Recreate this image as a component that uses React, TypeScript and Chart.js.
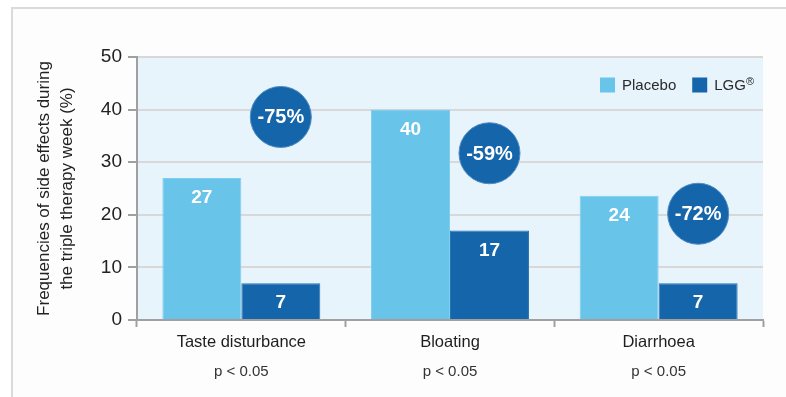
import React, { useEffect, useRef } from "react";
import { Chart, registerables } from "chart.js";

Chart.register(...registerables);

const categories = ["Taste disturbance", "Bloating", "Diarrhoea"];
const pValues = ["p < 0.05", "p < 0.05", "p < 0.05"];
const seriesNames = ["Placebo", "LGG®"];
const placebo = [27, 40, 23.6];
const lgg = [7, 17, 7];
const reductions = ["-75%", "-59%", "-72%"];
const badgeLevels = [38.6, 31.7, 20.2];
const yTicks = [0, 10, 20, 30, 40, 50];
const yTitle = ["Frequencies of side effects during", "the triple therapy week (%)"];

const FONT = "'Liberation Sans', Arial, sans-serif";
const PLACEBO_COLOR = "#69c4ea";
const LGG_COLOR = "#1565aa";
const PLOT_BG = "#e7f4fc";

const plotBg = {
  id: "plotBg",
  beforeDraw(chart: any) {
    const { ctx, chartArea } = chart;
    ctx.save();
    ctx.fillStyle = PLOT_BG;
    ctx.fillRect(chartArea.left, chartArea.top, chartArea.right - chartArea.left, chartArea.bottom - chartArea.top);
    ctx.restore();
  },
};

const valueLabels = {
  id: "valueLabels",
  afterDatasetsDraw(chart: any) {
    const { ctx } = chart;
    ctx.save();
    ctx.fillStyle = "#ffffff";
    ctx.font = `bold 19px ${FONT}`;
    ctx.textAlign = "center";
    ctx.textBaseline = "middle";
    chart.data.datasets.forEach((ds: any, di: number) => {
      const meta = chart.getDatasetMeta(di);
      meta.data.forEach((el: any, i: number) => {
        ctx.fillText(String(Math.round(ds.data[i])), el.x, el.y + 20);
      });
    });
    ctx.restore();
  },
};

const badges = {
  id: "badges",
  afterDatasetsDraw(chart: any) {
    const { ctx } = chart;
    const yScale = chart.scales.y;
    const meta = chart.getDatasetMeta(1);
    ctx.save();
    meta.data.forEach((el: any, i: number) => {
      const cx = el.x;
      const cy = yScale.getPixelForValue(badgeLevels[i]);
      ctx.beginPath();
      ctx.arc(cx, cy, 30.5, 0, Math.PI * 2);
      ctx.fillStyle = LGG_COLOR;
      ctx.fill();
      ctx.lineWidth = 1;
      ctx.strokeStyle = "#4f8cc4";
      ctx.stroke();
      ctx.fillStyle = "#ffffff";
      ctx.font = `bold 20px ${FONT}`;
      ctx.textAlign = "center";
      ctx.textBaseline = "middle";
      ctx.fillText(reductions[i], cx, cy + 1);
    });
    ctx.restore();
  },
};

const insideLegend = {
  id: "insideLegend",
  afterDraw(chart: any) {
    const { ctx, chartArea } = chart;
    const sq = 15;
    const gap = 7;
    const itemGap = 16;
    const cy = 85;
    ctx.save();
    const supFont = `11px ${FONT}`;
    const items = chart.data.datasets.map((ds: any) => {
      const parts = String(ds.label).split("®");
      ctx.font = `15px ${FONT}`;
      const w = ctx.measureText(parts[0]).width;
      let supW = 0;
      if (parts.length > 1) {
        ctx.font = supFont;
        supW = ctx.measureText("®").width;
      }
      return { main: parts[0], hasSup: parts.length > 1, w: w + supW, mainW: w, color: ds.backgroundColor };
    });
    let total = 0;
    items.forEach((it: any, i: number) => {
      total += sq + gap + it.w + (i < items.length - 1 ? itemGap : 0);
    });
    let x = chartArea.right - 9 - total;
    items.forEach((it: any) => {
      ctx.fillStyle = it.color;
      ctx.fillRect(x, cy - sq / 2, sq, sq);
      x += sq + gap;
      ctx.fillStyle = "#2a2a2a";
      ctx.font = `15px ${FONT}`;
      ctx.textAlign = "left";
      ctx.textBaseline = "middle";
      ctx.fillText(it.main, x, cy + 1);
      if (it.hasSup) {
        ctx.font = supFont;
        ctx.fillText("®", x + it.mainW, cy - 3);
      }
      x += it.w + itemGap;
    });
    ctx.restore();
  },
};

export default function App() {
  const canvasRef = useRef<HTMLCanvasElement | null>(null);

  useEffect(() => {
    if (!canvasRef.current) return;
    const chart = new Chart(canvasRef.current, {
      type: "bar",
      data: {
        labels: categories,
        datasets: [
          {
            label: seriesNames[0],
            data: placebo,
            backgroundColor: PLACEBO_COLOR,
            borderColor: "#7fcdef",
            borderWidth: 1,
            barPercentage: 1,
            categoryPercentage: 0.757,
          },
          {
            label: seriesNames[1],
            data: lgg,
            backgroundColor: LGG_COLOR,
            borderColor: "#2a73b3",
            borderWidth: 1,
            barPercentage: 1,
            categoryPercentage: 0.757,
          },
        ],
      },
      options: {
        responsive: false,
        animation: false,
        layout: { padding: { left: 0, right: 23, top: 57, bottom: 16 } },
        plugins: {
          legend: { display: false },
          tooltip: { enabled: false },
        },
        scales: {
          x: {
            type: "category",
            position: "bottom",
            grid: {
              display: true,
              drawOnChartArea: false,
              drawTicks: true,
              tickLength: 7,
              tickColor: "#a0a0a0",
              tickWidth: 2,
              offset: true,
            },
            border: { display: true, color: "#a0a0a0", width: 2 },
            ticks: {
              color: "#1e1e1e",
              font: { family: FONT, size: 16.5 },
              padding: 6,
            },
            afterFit(scale: any) {
              scale.height = 31;
            },
          },
          x2: {
            type: "category",
            position: "bottom",
            labels: pValues,
            grid: { display: false },
            border: { display: false },
            ticks: {
              color: "#333333",
              font: { family: FONT, size: 15 },
              padding: 4,
            },
            afterFit(scale: any) {
              scale.height = 30;
            },
          },
          y: {
            min: 0,
            max: 50,
            afterBuildTicks(scale: any) {
              scale.ticks = yTicks.map((v) => ({ value: v }));
            },
            grid: {
              color: "#d8d8d8",
              lineWidth: 2,
              drawTicks: true,
              tickLength: 9,
              tickColor: "#a0a0a0",
              tickWidth: 2,
            },
            border: { display: true, color: "#a0a0a0", width: 2 },
            ticks: {
              color: "#222222",
              font: { family: FONT, size: 19 },
              padding: 6,
            },
            title: {
              display: true,
              text: yTitle,
              color: "#222222",
              font: { family: FONT, size: 17, lineHeight: 1.35 },
              padding: { top: 33, bottom: 0 },
            },
            afterFit(scale: any) {
              scale.width = 137;
            },
          },
        },
      },
      plugins: [plotBg, valueLabels, badges, insideLegend],
    });
    return () => chart.destroy();
  }, []);

  return (
    <div style={{ position: "fixed", left: 0, top: 0, width: 786, height: 397, overflow: "hidden", background: "#ffffff" }}>
      <div
        style={{
          position: "absolute",
          left: 11,
          top: 7,
          width: 800,
          height: 420,
          borderTop: "2px solid #dadada",
          borderLeft: "2px solid #dadada",
          background: "#fdfdfd",
        }}
      />
      <canvas ref={canvasRef} width={786} height={397} style={{ position: "absolute", left: 0, top: 0 }} />
    </div>
  );
}
